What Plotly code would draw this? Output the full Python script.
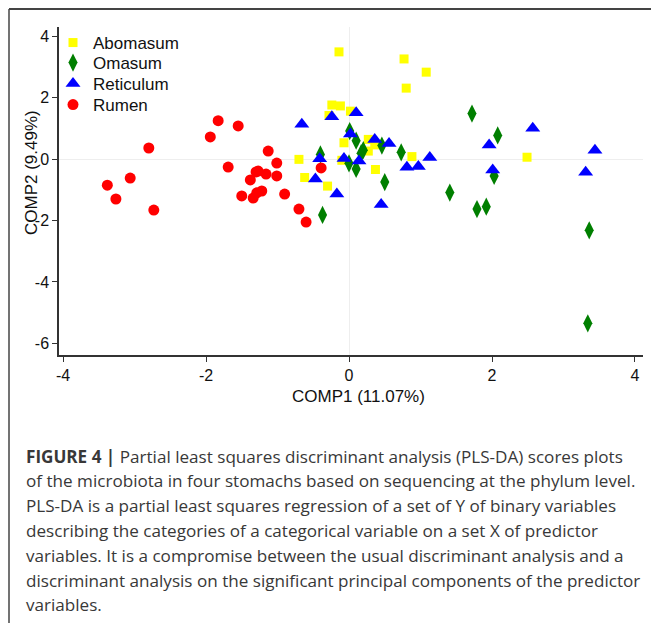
import plotly.graph_objects as go

# ---- data ----
abomasum_x = [-0.14, 0.77, 1.08, 0.80, -0.24, -0.12, -0.28, 0.02, -0.07, 0.27, 0.36, 0.27, 0.88, -0.70, -0.62, -0.30, 0.37, -0.10, 2.49]
abomasum_y = [3.49, 3.26, 2.83, 2.31, 1.76, 1.73, 1.42, 1.56, 0.53, 0.64, 0.46, 0.26, 0.08, -0.01, -0.60, -0.88, -0.34, -0.04, 0.06]

omasum_x = [0.01, 0.10, -0.40, 0.20, 0.17, 0.46, 0.73, 0.00, 0.10, 0.50, 1.41, -0.37, 1.72, 2.08, 2.03, 1.79, 1.92, 3.36, 3.34]
omasum_y = [0.91, 0.60, 0.15, 0.29, 0.19, 0.44, 0.22, -0.14, -0.32, -0.75, -1.09, -1.82, 1.48, 0.77, -0.55, -1.63, -1.55, -2.32, -5.35]

reticulum_x = [-0.66, -0.24, 0.10, 0.02, 0.36, 0.56, -0.41, -0.07, 0.14, 0.81, 0.97, 1.13, -0.47, -0.17, 0.45, 1.96, 2.57, 3.44, 2.01, 3.31]
reticulum_y = [1.13, 1.38, 1.51, 0.82, 0.64, 0.51, 0.01, 0.02, -0.06, -0.27, -0.24, 0.05, -0.65, -1.14, -1.48, 0.46, 1.00, 0.29, -0.36, -0.43]

rumen_x = [-3.38, -3.26, -3.06, -2.80, -2.73, -1.94, -1.83, -1.55, -1.69, -1.38, -1.30, -1.27, -1.16, -1.13, -1.01, -1.01, -1.50, -1.34, -1.29, -1.22, -0.90, -0.70, -0.60, -0.39]
rumen_y = [-0.85, -1.30, -0.62, 0.36, -1.66, 0.72, 1.25, 1.08, -0.26, -0.68, -0.42, -0.39, -0.49, 0.26, -0.13, -0.55, -1.20, -1.27, -1.10, -1.04, -1.14, -1.63, -2.05, -0.29]

x_ticks = [-4, -2, 0, 2, 4]
y_ticks = [4, 2, 0, -2, -4, -6]

x_title = "COMP1 (11.07%)"
y_title = "COMP2 (9.49%)"

caption_lines = [
    "<b>FIGURE 4 |</b> Partial least squares discriminant analysis (PLS-DA) scores plots",
    "of the microbiota in four stomachs based on sequencing at the phylum level.",
    "PLS-DA is a partial least squares regression of a set of Y of binary variables",
    "describing the categories of a categorical variable on a set X of predictor",
    "variables. It is a compromise between the usual discriminant analysis and a",
    "discriminant analysis on the significant principal components of the predictor",
    "variables.",
]

FONT = "Liberation Sans, Arial, sans-serif"
CAP_FONT = "Open Sans, Liberation Sans, sans-serif"

# layout geometry (figure pixels; the page adds an 8px body margin)
W, H = 651, 615
L, R, T, B = 51, 635, 19, 347
PW, PH = R - L, B - T


def px(xf):
    return (xf - L) / PW


def py(yf):
    return (B - yf) / PH


series = [
    ("Abomasum", abomasum_x, abomasum_y, dict(symbol="square", size=9, color="#FFFF00"), "legend"),
    ("Omasum", omasum_x, omasum_y, dict(symbol="diamond-tall", size=13, color="#007F00"), "legend2"),
    ("Reticulum", reticulum_x, reticulum_y, dict(symbol="triangle-up", size=13, color="#0000FF"), "legend3"),
    ("Rumen", rumen_x, rumen_y, dict(symbol="circle", size=11, color="#FF0000"), "legend4"),
]

fig = go.Figure()
for name, xs, ys, mk, lg in series:
    fig.add_trace(go.Scatter(x=xs, y=ys, mode="markers", name=name, marker=mk, legend=lg))

axis_common = dict(showgrid=False, zeroline=True, zerolinecolor="#EEEEEE", zerolinewidth=1,
                   showline=True, linecolor="#333333", linewidth=1.5,
                   ticks="outside", ticklen=5, tickcolor="#333333", tickwidth=1.2,
                   automargin=False,
                   tickfont=dict(family=FONT, size=16, color="#111111"))

fig.update_xaxes(range=[-4.056, 4.112], tickvals=x_ticks, ticktext=[str(v) for v in x_ticks],
                 **axis_common)
fig.update_yaxes(range=[-6.38, 4.30], tickvals=y_ticks, ticktext=[str(v) for v in y_ticks],
                 **axis_common)

# axis titles
fig.add_annotation(text=x_title, xref="paper", yref="paper", x=px(350.5), y=py(389),
                   xanchor="center", yanchor="middle", showarrow=False,
                   font=dict(family=FONT, size=17, color="#111111"))
fig.add_annotation(text=y_title, xref="paper", yref="paper", x=px(23.5), y=py(164.5),
                   xanchor="center", yanchor="middle", showarrow=False, textangle=-90,
                   font=dict(family=FONT, size=17, color="#111111"))

# figure frame lines (top and left)
fig.add_shape(type="line", xref="paper", yref="paper", x0=px(1), x1=px(W + 5), y0=py(1), y1=py(1),
              line=dict(color="#444444", width=2))
fig.add_shape(type="line", xref="paper", yref="paper", x0=px(1), x1=px(1), y0=py(1), y1=py(H + 5),
              line=dict(color="#444444", width=1.5))

for i, line in enumerate(caption_lines):
    yy = 448 + i * 24.8
    fig.add_annotation(text=line, xref="paper", yref="paper", x=px(16),
                       y=py(yy), xanchor="left", yanchor="middle", showarrow=False,
                       align="left", font=dict(family=CAP_FONT, size=17.1, color="#383838"))

legend_rows = [34, 54, 75, 96]
legend_style = dict(xanchor="left", yanchor="top", bgcolor="rgba(0,0,0,0)",
                    font=dict(family=FONT, size=17, color="#111111"), itemwidth=30)
legends = {}
for key, row in zip(["legend", "legend2", "legend3", "legend4"], legend_rows):
    legends[key] = dict(x=px(45), y=py(row - 17), **legend_style)

fig.update_layout(
    width=W, height=H,
    margin=dict(l=L, r=W - R, t=T, b=H - B, autoexpand=False),
    paper_bgcolor="white", plot_bgcolor="white",
    showlegend=True,
    **legends,
)

fig.write_html("out.html")
